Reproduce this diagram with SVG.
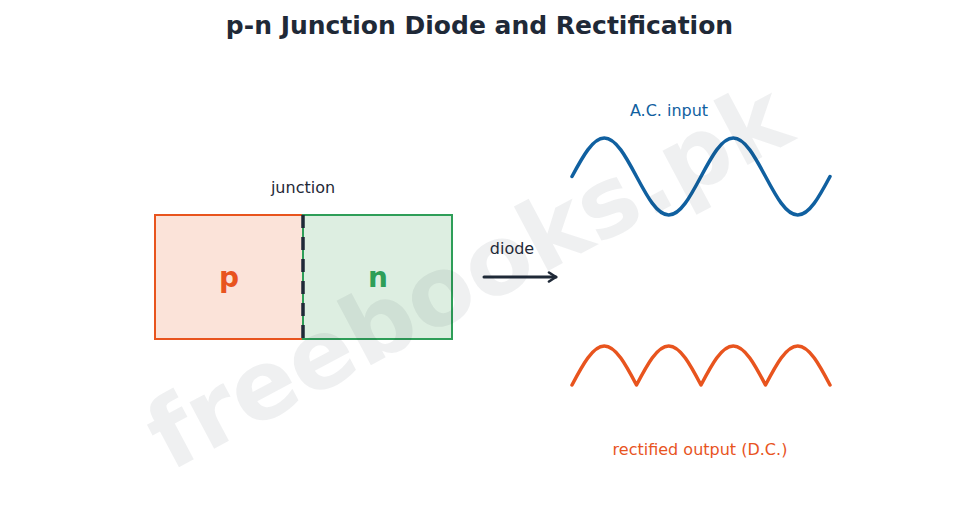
<svg xmlns="http://www.w3.org/2000/svg" width="959" height="523" viewBox="0 0 959 523">
<defs>
<style>
text{font-family:"DejaVu Sans","Noto Sans",sans-serif}
.lbl{font-size:16px;fill:#1f2937;text-anchor:middle}
.big{font-size:28px;font-weight:bold;text-anchor:middle}
.wave{fill:none;stroke-width:3.5;stroke-linecap:round;stroke-linejoin:round}
</style>
<marker id="ah" viewBox="0 0 12 12" refX="9" refY="6" markerWidth="12" markerHeight="12" markerUnits="userSpaceOnUse" orient="auto">
<path d="M2,1.5 L9,6 L2,10.5" fill="none" stroke="#1f2937" stroke-width="2.6" stroke-linecap="round" stroke-linejoin="round"/>
</marker>
</defs>
<rect width="959" height="523" fill="#ffffff"/>
<text x="479.5" y="34" style="font-size:25px;font-weight:bold;fill:#1f2937;text-anchor:middle">p-n Junction Diode and Rectification</text>
<g id="p-region">
<rect x="155" y="215" width="148" height="124" fill="#fbe3d9" stroke="#e8541e" stroke-width="2"/>
<text x="229" y="287" class="big" fill="#e8541e">p</text>
</g>
<g id="n-region">
<rect x="303" y="215" width="149" height="124" fill="#ddeee1" stroke="#2e9e58" stroke-width="2"/>
<text x="378" y="287" class="big" fill="#2e9e58">n</text>
</g>
<g id="junction">
<line x1="303" y1="215" x2="303" y2="339" stroke="#1f2937" stroke-width="3.5" stroke-dasharray="13 9"/>
<text x="303" y="193" class="lbl">junction</text>
</g>
<g id="connectors">
<line x1="484" y1="277" x2="556" y2="277" stroke="#1f2937" stroke-width="3" stroke-linecap="round" marker-end="url(#ah)"/>
<text x="512" y="254" class="lbl">diode</text>
</g>
<g id="ac-input">
<text x="669" y="116" class="lbl" style="fill:#1060a0">A.C. input</text>
<path class="wave" stroke="#1060a0" d="M572,176.5 C582.52,156.78 592.83,138 604.25,138 C615.92,138 625.98,156.78 636.5,176.5 C647.02,196.22 657.08,215 668.75,215 C680.42,215 690.48,196.22 701,176.5 C711.52,156.78 721.58,138 733.25,138 C744.92,138 754.98,156.78 765.5,176.5 C776.02,196.22 786.08,215 797.75,215 C809.42,215 819.48,196.22 830,176.5"/>
</g>
<g id="dc-output">
<path class="wave" stroke="#e8541e" d="M572,385 C582.52,365.02 592.83,346 604.25,346 C615.92,346 625.98,365.02 636.5,385 C647.02,365.02 657.08,346 668.75,346 C680.42,346 690.48,365.02 701,385 C711.52,365.02 721.58,346 733.25,346 C744.92,346 754.98,365.02 765.5,385 C776.02,365.02 786.08,346 797.75,346 C809.42,346 819.48,365.02 830,385"/>
<text x="700" y="455" class="lbl" style="fill:#e8541e">rectified output (D.C.)</text>
</g>
<text x="469" y="309" transform="rotate(-28 469 278)" style="font-size:96px;font-weight:bold;fill:#1f2937;fill-opacity:0.07;text-anchor:middle">freebooks.pk</text>
</svg>
